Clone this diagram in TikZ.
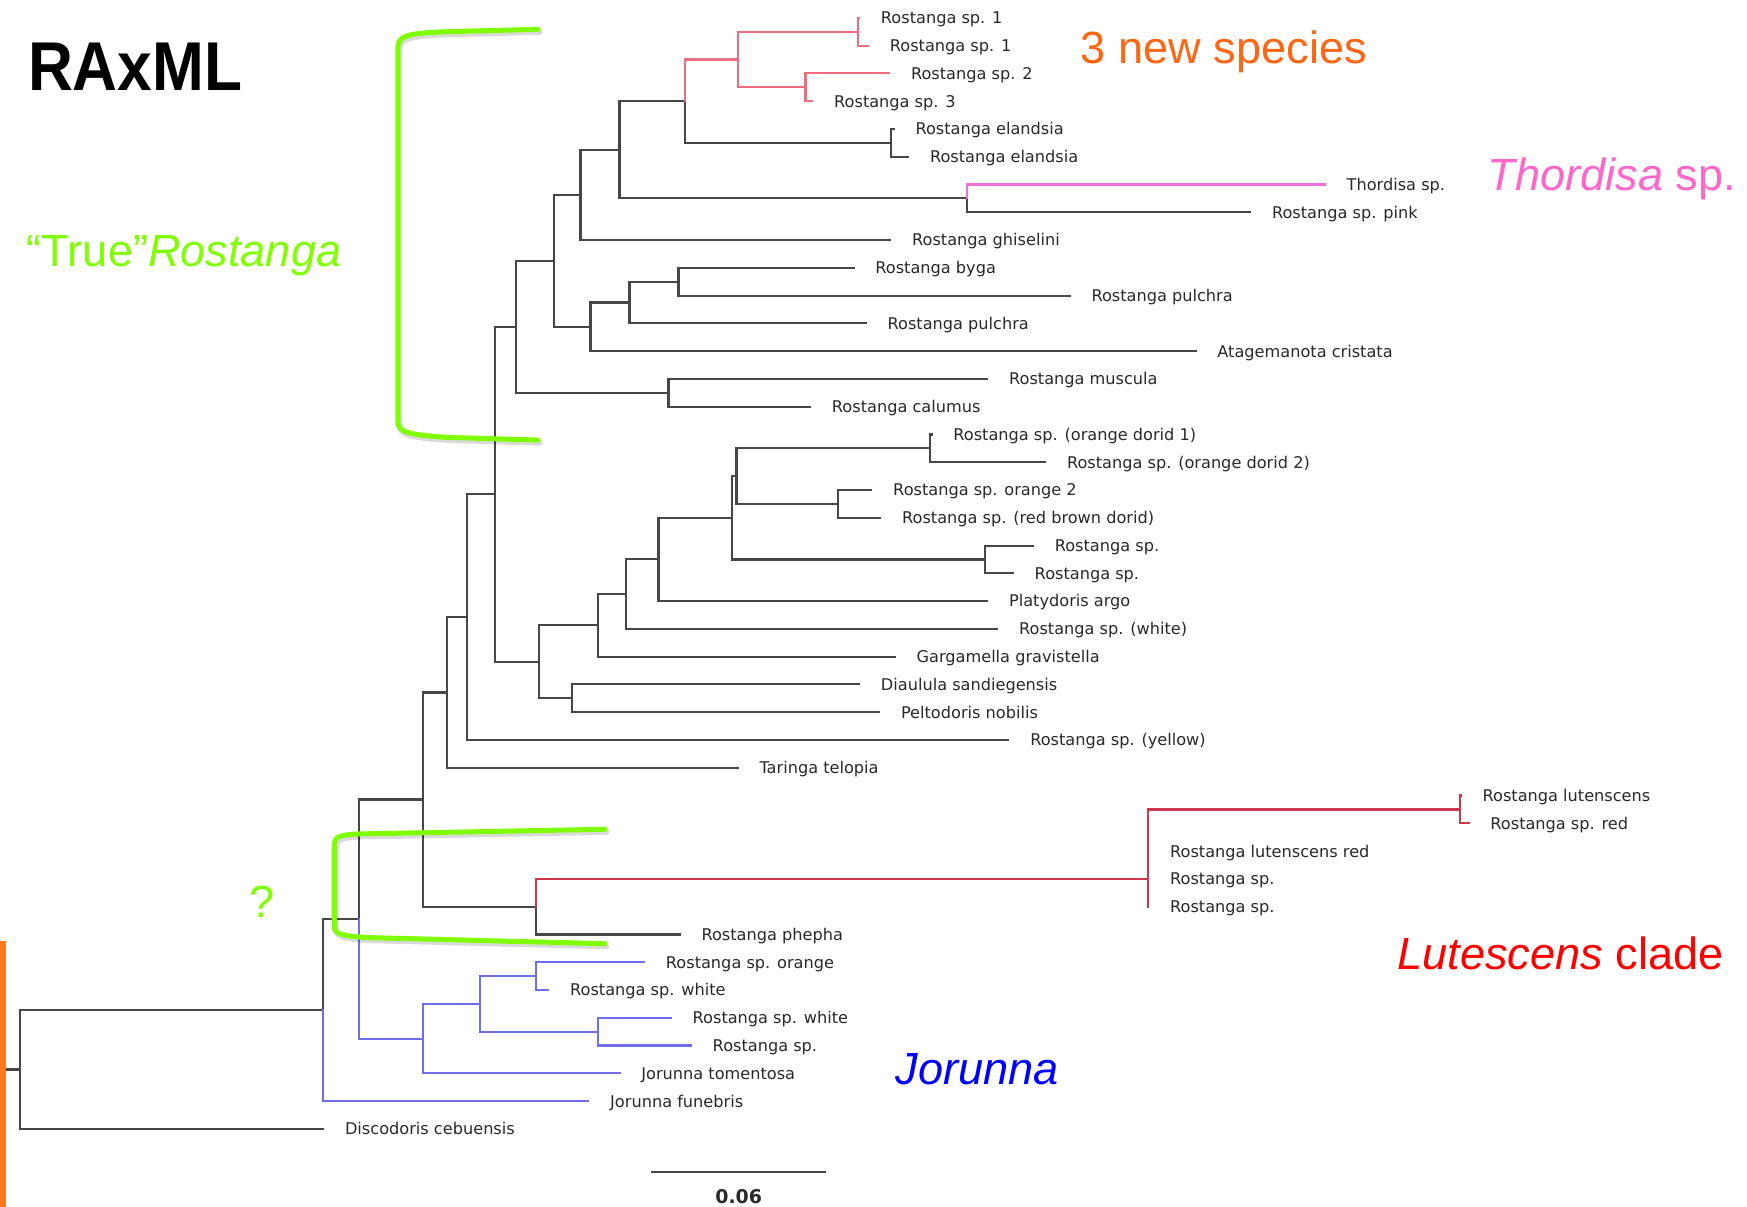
\documentclass[tikz,border=0pt]{standalone}
\usepackage{fontspec}
\setmainfont{Liberation Sans}
\newfontfamily\leaffont{DejaVu Sans}
\newfontfamily\titlefont[FakeStretch=0.9]{Liberation Sans}
\definecolor{brcol}{RGB}{70,70,70}
\definecolor{pinkbr}{RGB}{238,110,128}
\definecolor{magbr}{RGB}{240,110,215}
\definecolor{redbr}{RGB}{205,55,75}
\definecolor{bluebr}{RGB}{110,110,235}
\definecolor{leafgray}{RGB}{40,40,40}
\definecolor{orangeT}{RGB}{255,102,20}
\definecolor{pinkT}{RGB}{255,102,204}
\definecolor{redT}{RGB}{255,0,0}
\definecolor{blueT}{RGB}{0,0,255}
\definecolor{greenT}{RGB}{128,255,0}
\definecolor{orangeBar}{RGB}{255,120,30}
\begin{document}
\begin{tikzpicture}[x=1pt,y=-1pt,
  brline/.style={draw=brcol, line width=1.9pt, line cap=rect},
  pinkline/.style={brline, draw=pinkbr},
  magline/.style={brline, draw=magbr},
  redline/.style={brline, draw=redbr},
  blueline/.style={brline, draw=bluebr},
  leaf/.style={anchor=west, inner xsep=19.5pt, inner ysep=0pt, text height=10.6pt, text depth=0pt,
    font={\leaffont\fontsize{14.5}{17}\selectfont}, text=leafgray},
  ann/.style={anchor=base west, inner sep=0pt, font={\fontsize{40.5}{48}\selectfont}},
  bracket/.style={draw=greenT, line width=4.5pt, line cap=round, line join=round},
  bshadow/.style={draw=black, opacity=0.15, line width=5pt, line cap=round, line join=round}
]
\useasboundingbox (0,0) rectangle (1568,1083);

% ---------- internal nodes ----------
\coordinate (R0) at (18,959.9);
\coordinate (A) at (290,906.6);
\coordinate (B) at (322,824.9);
\coordinate (C) at (380,717.6);
\coordinate (D) at (401,621.5);
\coordinate (E) at (419,553.95);
\coordinate (F) at (444,443.7);
\coordinate (G) at (463,293.3);
\coordinate (U) at (497,234.1);
\coordinate (X) at (521,174.9);
\coordinate (AA) at (556,134.4);
\coordinate (BB) at (615,90.8);
\coordinate (DD) at (662,53.4);
\coordinate (FF) at (770,28.45);
\coordinate (GG) at (723,78.35);
\coordinate (EE) at (800,128.2);
\coordinate (CC) at (868,178.05);
\coordinate (W) at (530,293.35);
\coordinate (Y) at (565,271.5);
\coordinate (Z) at (609,252.85);
\coordinate (V) at (600,352.55);
\coordinate (H) at (484,594.1);
\coordinate (I) at (537,561.35);
\coordinate (N) at (562,533.3);
\coordinate (O) at (591,502.1);
\coordinate (P) at (657,464.75);
\coordinate (Q) at (661,427.35);
\coordinate (RR) at (835,402.45);
\coordinate (S) at (752,452.25);
\coordinate (T) at (884,502.15);
\coordinate (K) at (513,626.8);
\coordinate (L) at (481,813.75);
\coordinate (Lr) at (1030,788.8);
\coordinate (M) at (1310,726.5);
\coordinate (J1) at (380,932.2);
\coordinate (J2) at (431,901.0);
\coordinate (J3) at (481,876.1);
\coordinate (J4) at (537,925.95);
\coordinate (stub) at (5,959.9);

% ---------- leaves ----------
\node[leaf] (l0) at (771,16.0) {Rostanga sp. 1};
\node[leaf] (l1) at (779,40.9) {Rostanga sp. 1};
\node[leaf] (l2) at (798,65.9) {Rostanga sp. 2};
\node[leaf] (l3) at (729,90.8) {Rostanga sp. 3};
\node[leaf] (l4) at (802,115.7) {Rostanga elandsia};
\node[leaf] (l5) at (815,140.7) {Rostanga elandsia};
\node[leaf] (l6) at (1189,165.6) {Thordisa sp.};
\node[leaf] (l7) at (1122,190.5) {Rostanga sp. pink};
\node[leaf] (l8) at (799,215.4) {Rostanga ghiselini};
\node[leaf] (l9) at (766,240.4) {Rostanga byga};
\node[leaf] (l10) at (960,265.3) {Rostanga pulchra};
\node[leaf] (l11) at (777,290.2) {Rostanga pulchra};
\node[leaf] (l12) at (1073,315.2) {Atagemanota cristata};
\node[leaf] (l13) at (886,340.1) {Rostanga muscula};
\node[leaf] (l14) at (727,365.0) {Rostanga calumus};
\node[leaf] (l15) at (836,390.0) {Rostanga sp. (orange dorid 1)};
\node[leaf] (l16) at (938,414.9) {Rostanga sp. (orange dorid 2)};
\node[leaf] (l17) at (782,439.8) {Rostanga sp. orange 2};
\node[leaf] (l18) at (790,464.7) {Rostanga sp. (red brown dorid)};
\node[leaf] (l19) at (927,489.7) {Rostanga sp.};
\node[leaf] (l20) at (909,514.6) {Rostanga sp.};
\node[leaf] (l21) at (886,539.5) {Platydoris argo};
\node[leaf] (l22) at (895,564.5) {Rostanga sp. (white)};
\node[leaf] (l23) at (803,589.4) {Gargamella gravistella};
\node[leaf] (l24) at (771,614.3) {Diaulula sandiegensis};
\node[leaf] (l25) at (789,639.3) {Peltodoris nobilis};
\node[leaf] (l26) at (905,664.2) {Rostanga sp. (yellow)};
\node[leaf] (l27) at (662,689.1) {Taringa telopia};
\node[leaf] (l28) at (1311,714.0) {Rostanga lutenscens};
\node[leaf] (l29) at (1318,739.0) {Rostanga sp. red};
\node[leaf] (l30) at (1030.5,763.9) {Rostanga lutenscens red};
\node[leaf] (l31) at (1030.5,788.8) {Rostanga sp.};
\node[leaf] (l32) at (1030.5,813.8) {Rostanga sp.};
\node[leaf] (l33) at (610,838.7) {Rostanga phepha};
\node[leaf] (l34) at (578,863.6) {Rostanga sp. orange};
\node[leaf] (l35) at (492,888.6) {Rostanga sp. white};
\node[leaf] (l36) at (602,913.5) {Rostanga sp. white};
\node[leaf] (l37) at (620,938.4) {Rostanga sp.};
\node[leaf] (l38) at (556,963.3) {Jorunna tomentosa};
\node[leaf] (l39) at (528,988.3) {Jorunna funebris};
\node[leaf] (l40) at (290,1013.2) {Discodoris cebuensis};

% ---------- black branches ----------
\draw[brline] (stub) -- (R0);
\draw[brline] (R0) |- (A);
\draw[brline] (R0) |- (l40.west);
\draw[brline] (A) |- (B);
\draw[brline] (B) |- (C);
\draw[brline] (C) |- (D);
\draw[brline] (C) |- (L);
\draw[brline] (L) |- (l33.west);
\draw[brline] (D) |- (E);
\draw[brline] (D) |- (l27.west);
\draw[brline] (E) |- (F);
\draw[brline] (E) |- (l26.west);
\draw[brline] (F) |- (G);
\draw[brline] (F) |- (H);
\draw[brline] (G) |- (U);
\draw[brline] (G) |- (V);
\draw[brline] (U) |- (X);
\draw[brline] (U) |- (W);
\draw[brline] (X) |- (AA);
\draw[brline] (X) |- (l8.west);
\draw[brline] (AA) |- (BB);
\draw[brline] (AA) |- (CC);
\draw[brline] (BB) |- (EE);
\draw[brline] (EE) |- (l4.west);
\draw[brline] (EE) |- (l5.west);
\draw[brline] (CC) |- (l7.west);
\draw[brline] (W) |- (Y);
\draw[brline] (W) |- (l12.west);
\draw[brline] (Y) |- (Z);
\draw[brline] (Y) |- (l11.west);
\draw[brline] (Z) |- (l9.west);
\draw[brline] (Z) |- (l10.west);
\draw[brline] (V) |- (l13.west);
\draw[brline] (V) |- (l14.west);
\draw[brline] (H) |- (I);
\draw[brline] (H) |- (K);
\draw[brline] (I) |- (N);
\draw[brline] (I) |- (l23.west);
\draw[brline] (N) |- (O);
\draw[brline] (N) |- (l22.west);
\draw[brline] (O) |- (P);
\draw[brline] (O) |- (l21.west);
\draw[brline] (P) |- (Q);
\draw[brline] (P) |- (T);
\draw[brline] (Q) |- (RR);
\draw[brline] (Q) |- (S);
\draw[brline] (RR) |- (l15.west);
\draw[brline] (RR) |- (l16.west);
\draw[brline] (S) |- (l17.west);
\draw[brline] (S) |- (l18.west);
\draw[brline] (T) |- (l19.west);
\draw[brline] (T) |- (l20.west);
\draw[brline] (K) |- (l24.west);
\draw[brline] (K) |- (l25.west);

% ---------- new species (pink) ----------
\draw[pinkline] (BB) |- (DD);
\draw[pinkline] (DD) |- (FF);
\draw[pinkline] (DD) |- (GG);
\draw[pinkline] (FF) |- (l0.west);
\draw[pinkline] (FF) |- (l1.west);
\draw[pinkline] (GG) |- (l2.west);
\draw[pinkline] (GG) |- (l3.west);

% ---------- Thordisa (magenta) ----------
\draw[magline] (CC) |- (l6.west);

% ---------- Lutescens clade (red) ----------
\draw[redline] (L) |- (Lr);
\draw[redline] (Lr) |- (M);
\draw[redline] (Lr) |- (l30.west);
\draw[redline] (Lr) |- (l31.west);
\draw[redline] (Lr) |- (l32.west);
\draw[redline] (M) |- (l28.west);
\draw[redline] (M) |- (l29.west);

% ---------- Jorunna (blue) ----------
\draw[blueline] (A) |- (l39.west);
\draw[blueline] (B) |- (J1);
\draw[blueline] (J1) |- (J2);
\draw[blueline] (J1) |- (l38.west);
\draw[blueline] (J2) |- (J3);
\draw[blueline] (J2) |- (J4);
\draw[blueline] (J3) |- (l34.west);
\draw[blueline] (J3) |- (l35.west);
\draw[blueline] (J4) |- (l36.west);
\draw[blueline] (J4) |- (l37.west);

% ---------- scale bar ----------
\coordinate (sb1) at (584,1051.6);
\coordinate (sb2) at (741,1051.6);
\draw[brline, line cap=butt] (sb1) -- (sb2);
\node[inner sep=0pt, font={\leaffont\bfseries\fontsize{17}{20}\selectfont}, text=leafgray] (sbl) at (663,1074) {0.06};

% ---------- orange bar ----------
\fill[orangeBar] (0,845) rectangle (5,1083);

% ---------- green brackets ----------
\begin{scope}[shift={(1.5,2.5)}]
\draw[bshadow] (483,26.3) -- (400,28.5) .. controls (364,30) and (357,32) .. (357,44) -- (357,378)
  .. controls (357,388) and (366,390) .. (400,392.5) -- (483,395);
\draw[bshadow] (543,744.3) -- (322,748.5) .. controls (303,749.5) and (300,751) .. (300,760) -- (300,831)
  .. controls (300,838) and (305,840) .. (330,841.5) -- (543,847);
\end{scope}
\draw[bracket] (483,26.3) -- (400,28.5) .. controls (364,30) and (357,32) .. (357,44) -- (357,378)
  .. controls (357,388) and (366,390) .. (400,392.5) -- (483,395);
\draw[bracket] (543,744.3) -- (322,748.5) .. controls (303,749.5) and (300,751) .. (300,760) -- (300,831)
  .. controls (300,838) and (305,840) .. (330,841.5) -- (543,847);

% ---------- annotations ----------
\node[anchor=base west, inner sep=0pt, font={\titlefont\bfseries\fontsize{62}{70}\selectfont}] (raxml) at (25,81) {RAxML};
\node[ann, text=greenT] (truer) at (24,239) {“True”\textit{Rostanga}};
\node[ann, text=greenT] (qm) at (224,823.3) {?};
\node[ann, text=orangeT] (newsp) at (970,56.8) {3 new species};
\node[ann, text=pinkT] (thord) at (1335,171) {\textit{Thordisa} sp.};
\node[ann, text=redT] (lut) at (1254,870) {\textit{Lutescens} clade};
\node[ann, text=blueT] (jor) at (803.7,973) {\textit{Jorunna}};
\end{tikzpicture}
\end{document}
